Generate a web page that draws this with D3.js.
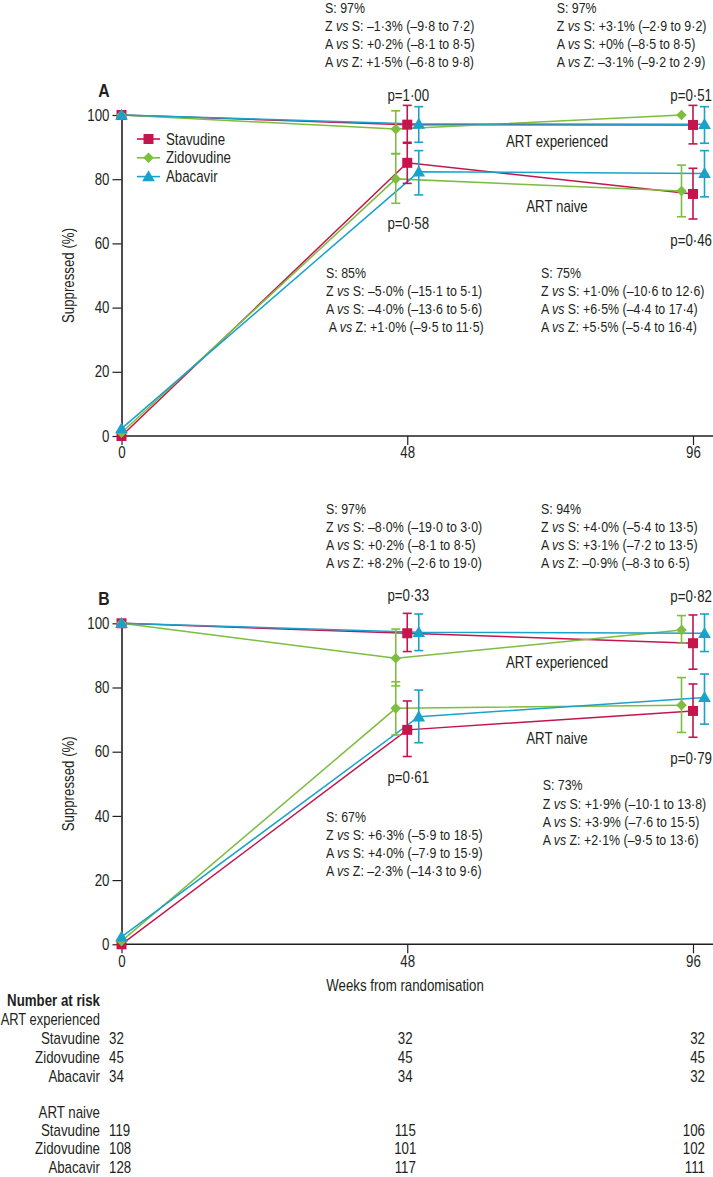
<!DOCTYPE html>
<html><head><meta charset="utf-8">
<script src="https://cdn.jsdelivr.net/npm/d3@7"></script>
<style>
body{margin:0;background:#fff;}
svg text{font-family:"Liberation Sans",Arial,sans-serif;fill:#231f20;}
</style></head>
<body><svg id="c" width="713" height="1177"></svg>
<script>
// ---------- data ----------
const weeks = [0, 48, 96];
const drugs = ["Stavudine", "Zidovudine", "Abacavir"];
const drugColors = ["#c4154d", "#7dbd3f", "#1aa2cc"];
const yTicks = [0, 20, 40, 60, 80, 100];

// Panel A – ART experienced (value, lower CI, upper CI)
const aExpStav = [100, 97.0, 96.9], aExpStavLo = [null, 91.2, 91.0], aExpStavHi = [null, 103.0, 103.0];
const aExpZido = [100, 95.6, 100], aExpZidoLo = [null, 88.0, null], aExpZidoHi = [null, 101.3, null];
const aExpAbac = [100, 97.2, 97.1], aExpAbacLo = [null, 91.5, 91.2], aExpAbacHi = [null, 102.6, 102.6];
// Panel A – ART naive
const aNaiStav = [0, 85.1, 75.4], aNaiStavLo = [null, 78.7, 67.6], aNaiStavHi = [null, 91.5, 83.4];
const aNaiZido = [1, 80.1, 76.3], aNaiZidoLo = [null, 72.5, 68.3], aNaiZidoHi = [null, 87.9, 84.4];
const aNaiAbac = [2.3, 82.3, 81.8], aNaiAbacLo = [null, 75.1, 74.5], aNaiAbacHi = [null, 88.9, 88.9];
// Panel B – ART experienced
const bExpStav = [100, 96.9, 93.8], bExpStavLo = [null, 91.2, 85.7], bExpStavHi = [null, 103.1, 102.6];
const bExpZido = [100, 89.1, 97.9], bExpZidoLo = [null, 80.5, 93.8], bExpZidoHi = [null, 98.2, 102.4];
const bExpAbac = [100, 97.2, 96.9], bExpAbacLo = [null, 91.5, 91.2], bExpAbacHi = [null, 102.9, 102.9];
// Panel B – ART naive
const bNaiStav = [0, 66.8, 72.7], bNaiStavLo = [null, 58.5, 64.5], bNaiStavHi = [null, 75.8, 81.1];
const bNaiZido = [1, 73.5, 74.5], bNaiZidoLo = [null, 65.2, 66.0], bNaiZidoHi = [null, 81.8, 83.1];
const bNaiAbac = [2.3, 70.9, 76.9], bNaiAbacLo = [null, 62.8, 68.6], bNaiAbacHi = [null, 79.2, 84.2];

// annotations
const annA48Exp = ["S: 97%", "Z vs S: –1·3% (–9·8 to 7·2)", "A vs S: +0·2% (–8·1 to 8·5)", "A vs Z: +1·5% (–6·8 to 9·8)"];
const annA96Exp = ["S: 97%", "Z vs S: +3·1% (–2·9 to 9·2)", "A vs S: +0% (–8·5 to 8·5)", "A vs Z: –3·1% (–9·2 to 2·9)"];
const annA48Nai = ["S: 85%", "Z vs S: –5·0% (–15·1 to 5·1)", "A vs S: –4·0% (–13·6 to 5·6)", " A vs Z: +1·0% (–9·5 to 11·5)"];
const annA96Nai = ["S: 75%", "Z vs S: +1·0% (–10·6 to 12·6)", "A vs S: +6·5% (–4·4 to 17·4)", "A vs Z: +5·5% (–5·4 to 16·4)"];
const annB48Exp = ["S: 97%", "Z vs S: –8·0% (–19·0 to 3·0)", "A vs S: +0·2% (–8·1 to 8·5)", "A vs Z: +8·2% (–2·6 to 19·0)"];
const annB96Exp = ["S: 94%", "Z vs S: +4·0% (–5·4 to 13·5)", "A vs S: +3·1% (–7·2 to 13·5)", "A vs Z: –0·9% (–8·3 to 6·5)"];
const annB48Nai = ["S: 67%", "Z vs S: +6·3% (–5·9 to 18·5)", "A vs S: +4·0% (–7·9 to 15·9)", "A vs Z: –2·3% (–14·3 to 9·6)"];
const annB96Nai = ["S: 73%", "Z vs S: +1·9% (–10·1 to 13·8)", "A vs S: +3·9% (–7·6 to 15·5)", "A vs Z: +2·1% (–9·5 to 13·6)"];
const pA = ["p=1·00", "p=0·51", "p=0·58", "p=0·46"];
const pB = ["p=0·33", "p=0·82", "p=0·61", "p=0·79"];

// number at risk
const riskExpStav = [32, 32, 32], riskExpZido = [45, 45, 45], riskExpAbac = [34, 34, 32];
const riskNaiStav = [119, 115, 106], riskNaiZido = [108, 101, 102], riskNaiAbac = [128, 117, 111];

// ---------- drawing ----------
const svg = d3.select("#c");
const x = d3.scaleLinear().domain([0, 96]).range([121.5, 693]);
const drugOffset = [0, -11.5, 11.5];   // pixel dodge at weeks > 0
const px = (w, k) => x(w) + (w > 0 ? drugOffset[k] : 0);
const FS = 16, AFS = 15.5;
const CONDENSE = 0.83, ACONDENSE = 0.8;

function series(vals, lo, hi) { return weeks.map((w, i) => ({w, v: vals[i], lo: lo[i], hi: hi[i]})); }

const panels = [
  {label: "A", top: 115, bottom: 436,
   groups: [[series(aExpStav, aExpStavLo, aExpStavHi), series(aExpZido, aExpZidoLo, aExpZidoHi), series(aExpAbac, aExpAbacLo, aExpAbacHi)],
            [series(aNaiStav, aNaiStavLo, aNaiStavHi), series(aNaiZido, aNaiZidoLo, aNaiZidoHi), series(aNaiAbac, aNaiAbacLo, aNaiAbacHi)]],
   ann: [[annA48Exp, 325, 7.5], [annA96Exp, 556.7, 7.5], [annA48Nai, 326, 272.5], [annA96Nai, 541, 272.5]],
   p: pA, pY: [95, 95, 223, 240], expY: 141.7, naiY: 206.7, legend: true},
  {label: "B", top: 623.3, bottom: 944.3,
   groups: [[series(bExpStav, bExpStavLo, bExpStavHi), series(bExpZido, bExpZidoLo, bExpZidoHi), series(bExpAbac, bExpAbacLo, bExpAbacHi)],
            [series(bNaiStav, bNaiStavLo, bNaiStavHi), series(bNaiZido, bNaiZidoLo, bNaiZidoHi), series(bNaiAbac, bNaiAbacLo, bNaiAbacHi)]],
   ann: [[annB48Exp, 326, 508.3], [annB96Exp, 541, 508.3], [annB48Nai, 326, 816.7], [annB96Nai, 542.7, 785]],
   p: pB, pY: [595, 596.7, 777, 758], expY: 662.3, naiY: 738.3, legend: false}
];

const symbols = [
  d3.symbol().type(d3.symbolSquare).size(100),
  d3.symbol().type(d3.symbolSquare).size(56),
  d3.symbol().type(d3.symbolTriangle).size(70)
];
const symRot = [0, 45, 0];

panels.forEach(P => {
  const y = d3.scaleLinear().domain([0, 100]).range([P.bottom, P.top]);
  const g = svg.append("g");

  // y axis
  const ya = g.append("g").attr("transform", `translate(${x(0)},0)`)
    .call(d3.axisLeft(y).tickValues(yTicks).tickSize(9).tickPadding(3).tickSizeOuter(0));
  ya.select(".domain").attr("stroke", "#231f20").attr("stroke-width", 1.6);
  ya.selectAll(".tick line").attr("stroke", "#231f20").attr("stroke-width", 1.2);
  ya.selectAll(".tick text").attr("font-size", FS).attr("fill", "#231f20");

  // x axis
  const xa = g.append("g").attr("transform", `translate(0,${P.bottom})`)
    .call(d3.axisBottom(x).tickValues(weeks).tickSize(9).tickPadding(2).tickSizeOuter(0));
  xa.select(".domain").attr("d", `M${x(0)},0H713`).attr("stroke", "#231f20").attr("stroke-width", 1.6);
  xa.selectAll(".tick line").attr("stroke", "#231f20").attr("stroke-width", 1.2);
  xa.selectAll(".tick text").attr("font-size", FS).attr("fill", "#231f20");

  // y title
  g.append("text").attr("transform", `translate(68,${(P.top + P.bottom) / 2}) rotate(-90)`)
    .attr("text-anchor", "middle").attr("dy", "0.35em").attr("font-size", FS).text("Suppressed (%)");

  // panel label
  g.append("text").attr("x", 104).attr("y", P.top - 25).attr("dy", "0.35em").attr("text-anchor", "middle")
    .attr("font-size", 19).attr("font-weight", "bold").text(P.label);

  // lines, error bars, markers
  const line = k => d3.line().x(d => px(d.w, k)).y(d => y(d.v));
  P.groups.forEach(grp => {
    grp.forEach((s, k) => {
      g.append("path").datum(s).attr("d", line(k)).attr("fill", "none")
        .attr("stroke", drugColors[k]).attr("stroke-width", 1.5);
    });
  });
  P.groups.forEach(grp => {
    grp.forEach((s, k) => {
      const eb = s.filter(d => d.lo != null);
      const ge = g.append("g").attr("stroke", drugColors[k]).attr("stroke-width", 1.6);
      eb.forEach(d => {
        const cx = px(d.w, k);
        ge.append("line").attr("x1", cx).attr("x2", cx).attr("y1", y(d.lo)).attr("y2", y(d.hi));
        ge.append("line").attr("x1", cx - 4.5).attr("x2", cx + 4.5).attr("y1", y(d.lo)).attr("y2", y(d.lo));
        ge.append("line").attr("x1", cx - 4.5).attr("x2", cx + 4.5).attr("y1", y(d.hi)).attr("y2", y(d.hi));
      });
    });
  });
  P.groups.forEach(grp => {
    grp.forEach((s, k) => {
      g.selectAll(null).data(s).join("path")
        .attr("d", symbols[k])
        .attr("transform", d => `translate(${px(d.w, k)},${y(d.v) + (k === 2 ? 1 : 0)}) rotate(${symRot[k]})`)
        .attr("fill", drugColors[k]);
    });
  });

  // annotations: one text per line, "vs" in italics
  P.ann.forEach(([lines, ax, ay]) => {
    lines.forEach((l, i) => {
      const t = g.append("text").attr("class", "ann").attr("x", ax).attr("y", ay + i * 18.1).attr("dy", "0.35em")
        .attr("font-size", AFS).attr("xml:space", "preserve");
      const parts = l.split(" vs ");
      if (parts.length === 2) {
        t.append("tspan").text(parts[0] + " ");
        t.append("tspan").attr("font-style", "italic").text("vs");
        t.append("tspan").text(" " + parts[1]);
      } else t.text(l);
    });
  });
  // p values
  const pPos = [[x(48) + 1, "middle"], [712, "end"], [x(48) + 1, "middle"], [712, "end"]];
  P.p.forEach((s, i) => g.append("text").attr("x", pPos[i][0]).attr("y", P.pY[i]).attr("dy", "0.35em")
    .attr("text-anchor", pPos[i][1]).attr("font-size", FS).text(s));
  g.append("text").attr("x", 557).attr("y", P.expY).attr("dy", "0.35em").attr("text-anchor", "middle")
    .attr("font-size", FS).text("ART experienced");
  g.append("text").attr("x", 557).attr("y", P.naiY).attr("dy", "0.35em").attr("text-anchor", "middle")
    .attr("font-size", FS).text("ART naive");

  // legend
  if (P.legend) {
    drugs.forEach((d, k) => {
      const ly = 139 + k * 18.8;
      g.append("line").attr("x1", 137).attr("x2", 160).attr("y1", ly).attr("y2", ly)
        .attr("stroke", drugColors[k]).attr("stroke-width", 1.6);
      g.append("path").attr("d", symbols[k]).attr("fill", drugColors[k])
        .attr("transform", `translate(148.5,${ly + (k === 2 ? 1 : 0)}) rotate(${symRot[k]})`);
      g.append("text").attr("x", 166).attr("y", ly).attr("dy", "0.35em").attr("font-size", FS).text(d);
    });
  }
});

// x axis title
svg.append("text").attr("x", 405).attr("y", 985).attr("dy", "0.35em").attr("text-anchor", "middle")
  .attr("font-size", FS).text("Weeks from randomisation");

// number at risk table
svg.append("text").attr("x", 100).attr("y", 1000).attr("dy", "0.35em").attr("text-anchor", "end")
  .attr("font-size", FS).attr("font-weight", "bold").text("Number at risk");
const riskGroups = [
  {title: "ART experienced", ty: 1019, rows: [riskExpStav, riskExpZido, riskExpAbac], y0: 1038.5},
  {title: "ART naive", ty: 1112, rows: [riskNaiStav, riskNaiZido, riskNaiAbac], y0: 1130}
];
const colAnchor = ["start", "middle", "end"];
const colX = i => i === 0 ? 109 : i === 1 ? x(48) - 2 : 705;
riskGroups.forEach(G => {
  svg.append("text").attr("class", "fit").attr("x", 100).attr("y", G.ty).attr("dy", "0.35em").attr("text-anchor", "end")
    .attr("font-size", FS).text(G.title);
  G.rows.forEach((r, k) => {
    const ry = G.y0 + k * 18.8;
    svg.append("text").attr("x", 100).attr("y", ry).attr("dy", "0.35em").attr("text-anchor", "end")
      .attr("font-size", FS).text(drugs[k]);
    svg.selectAll(null).data(r).join("text")
      .attr("x", (d, i) => colX(i)).attr("y", ry).attr("dy", "0.35em").attr("text-anchor", (d, i) => colAnchor[i])
      .attr("font-size", FS).text(d => d);
  });
});

// condense all text horizontally (reference uses a condensed face): scale about each text's anchor
svg.selectAll("text").each(function () {
  const el = d3.select(this);
  let f = this.classList.contains("ann") ? ACONDENSE : CONDENSE;
  if (this.classList.contains("fit")) f = Math.min(f, 99.5 / this.getComputedTextLength());
  const tx = +(el.attr("x") || 0), ty = +(el.attr("y") || 0);
  const prev = el.attr("transform") || "";
  el.attr("x", 0).attr("y", 0).attr("transform", `${prev} translate(${tx},${ty}) scale(${f},1)`);
});
</script></body></html>
